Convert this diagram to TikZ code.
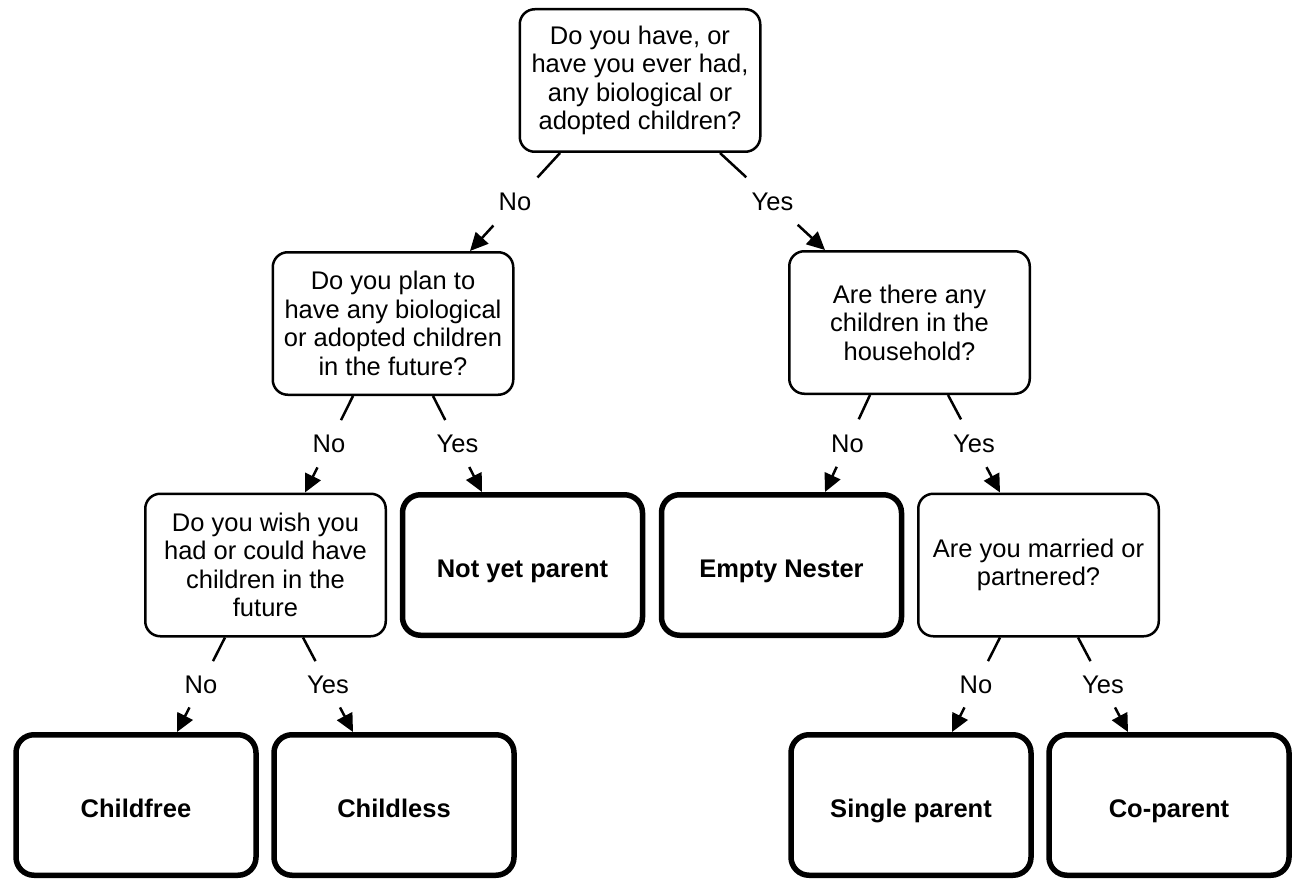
\documentclass[tikz,border=0pt]{standalone}
\usepackage{fontspec}
\setmainfont{Liberation Sans}
\usetikzlibrary{arrows.meta,calc}
\begin{document}
\begin{tikzpicture}[x=1pt,y=-1pt,
  txt/.style={font=\fontsize{25.5}{28.5}\selectfont},
  qbox/.style={txt, draw, line width=2.5pt, rounded corners=15pt, align=center, inner sep=0pt,
    minimum width=240.5pt, minimum height=142.5pt},
  outbox/.style={draw, line width=5.5pt, rounded corners=18pt, align=center, inner sep=0pt,
    font=\fontsize{25.5}{28.5}\selectfont\bfseries, minimum width=240pt, minimum height=140.5pt,
    text height=24pt, text depth=0pt},
  lbl/.style={txt, inner sep=0pt},
  conn/.style={line width=2.5pt},
  arr/.style={line width=2.5pt, -{Triangle[length=18pt,width=17pt]}},
]
\useasboundingbox (0,0) rectangle (1296,880);

% question boxes
\node[qbox] (top) at (640,80.5) {Do you have, or\\have you ever had,\\any biological or\\adopted children?};
\node[qbox] (lq) at (393,323.5) {Do you plan to\\have any biological\\or adopted children\\in the future?};
\node[qbox] (rq) at (909.5,322.5) {Are there any\\children in the\\household?};
\node[qbox] (wish) at (265.5,565) {Do you wish you\\had or could have\\children in the\\future};
\node[qbox] (married) at (1038.5,565) {Are you married or\\partnered?};

% outcome boxes
\node[outbox] (notyet) at (522.5,565) {Not yet parent};
\node[outbox] (empty) at (781.5,565) {Empty Nester};
\node[outbox] (childfree) at (136,805) {Childfree};
\node[outbox] (childless) at (394,805) {Childless};
\node[outbox] (single) at (911,805) {Single parent};
\node[outbox] (coparent) at (1169,805) {Co-parent};

% connectors
\foreach \p/\ps/\c/\cs/\t/\n in {
  top/-80/lq/77/No/a,
  top/80/rq/-84.5/Yes/b,
  lq/-40/wish/39.5/No/c,
  lq/40/notyet/-40.5/Yes/d,
  rq/-39.5/empty/43.5/No/e,
  rq/38.5/married/-38.5/Yes/f,
  wish/-40.5/childfree/41/No/g,
  wish/37.5/childless/-41/Yes/h,
  married/-38.5/single/41/No/i,
  married/39.5/coparent/-41/Yes/j}{
  \coordinate (s\n) at ([xshift=\ps pt]\p.south);
  \coordinate (e\n) at ([xshift=\cs pt]\c.north);
  \draw[conn] (s\n) -- ($(s\n)!0.25!(e\n)$);
  \draw[arr] ($(s\n)!0.74!(e\n)$) -- (e\n);
  \node[lbl] (l\n) at ($(s\n)!0.5!(e\n)$) {\t};
}
\end{tikzpicture}
\end{document}
